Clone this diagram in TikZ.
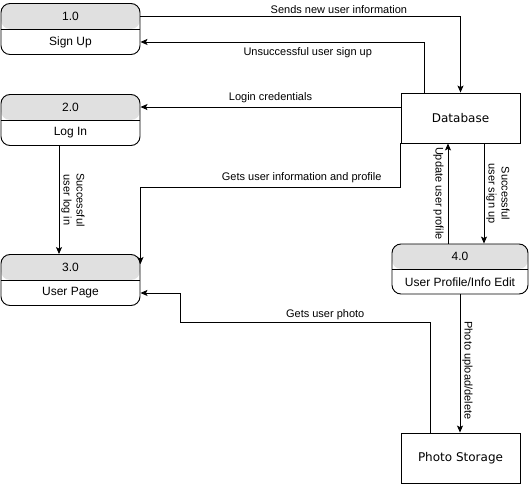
\documentclass[tikz,border=0pt]{standalone}
\usepackage{fontspec}
\setmainfont{Liberation Sans}
\newfontfamily\dejavu{DejaVu Sans}
\usetikzlibrary{calc,positioning,arrows.meta}
\definecolor{hdrgray}{HTML}{E0E0E0}
\tikzset{
  >={Stealth[length=7pt,width=6pt,inset=1.5pt]},
  proc/.style={
    rectangle,
    rounded corners=9pt,
    draw=black, line width=0.9pt,
    minimum width=139pt,
    minimum height=51pt,
    inner sep=0pt,
    path picture={
      \fill[hdrgray] (path picture bounding box.north west) rectangle (path picture bounding box.east);
      \draw[line width=0.9pt] (path picture bounding box.west) -- (path picture bounding box.east);
    }},
  ptext/.style={font=\fontsize{12}{14}\selectfont, inner sep=0pt},
  store/.style={
    rectangle,
    draw=black, line width=0.9pt,
    minimum width=119pt,
    minimum height=50pt,
    font=\dejavu\fontsize{12}{14}\selectfont},
  flow/.style={draw, line width=0.9pt, ->},
  lbl/.style={font=\fontsize{11}{13}\selectfont, inner sep=2pt},
  vlbl/.style={lbl, rotate=-90, align=center},
}

\begin{document}
\begin{tikzpicture}[x=1pt, y=-1pt]
  \useasboundingbox (0,0) rectangle (531,484);

  % processes
  \node[proc] (p1) at (70.5,29) {};
  \node[ptext] (p1h) at ($(p1.north)!.5!(p1.center)$) {1.0};
  \node[ptext] (p1b) at ($(p1.center)!.5!(p1.south)$) {Sign Up};

  \node[proc] (p2) at (70.5,120) {};
  \node[ptext] (p2h) at ($(p2.north)!.5!(p2.center)$) {2.0};
  \node[ptext] (p2b) at ($(p2.center)!.5!(p2.south)$) {Log In};

  \node[proc] (p3) at (70.5,280) {};
  \node[ptext] (p3h) at ($(p3.north)!.5!(p3.center)$) {3.0};
  \node[ptext] (p3b) at ($(p3.center)!.5!(p3.south)$) {User Page};

  \node[proc, minimum width=136pt, minimum height=50pt] (p4) at (460,269) {};
  \node[ptext] (p4h) at ($(p4.north)!.5!(p4.center)$) {4.0};
  \node[ptext] (p4b) at ($(p4.center)!.5!(p4.south)$) {User Profile/Info Edit};

  % data stores
  \node[store] (db) at (460.5,118) {Database};
  \node[store] (ps) at (460.5,458) {Photo Storage};

  % flows
  \draw[flow] (p1.east |- p1h) -| node[lbl, above, pos=0.31] {Sends new user information} (db.north);
  \draw[flow] ([xshift=-36.5pt]db.north) |- node[lbl, below=3pt, pos=0.705] {Unsuccessful user sign up} (p1.east |- p1b);
  \draw[flow] (db.west |- p2h) -- node[lbl, above=2pt] {Login credentials} (p2.east |- p2h);
  \draw[flow] ([xshift=-11.5pt]p2.south) -- node[vlbl, anchor=south] {Successful\\user log in} ([xshift=-11.5pt]p3.north);
  \draw[flow] (db.south west) -- ++(0,44) -| node[lbl, above=2pt, pos=0.19] {Gets user information and profile} ([yshift=-10pt]p3.north east);
  \draw[flow] ([xshift=-12pt]p4.north) -- node[vlbl, anchor=north, inner sep=4pt] {Update user profile} ([xshift=-12pt]p4.north |- db.south);
  \draw[flow] ([xshift=23.5pt]db.south) -- node[vlbl, anchor=south] {Successful\\user sign up} ([xshift=23.5pt]db.south |- p4.north);
  \draw[flow] (p4.south) -- node[vlbl, anchor=south, pos=0.55] {Photo upload/delete} (p4.south |- ps.north);
  \draw[flow] ([xshift=-30.5pt]ps.north) -- ++(0,-110) -- node[lbl, above, pos=0.42] {Gets user photo} ++(-249.5,0) |- (p3.east |- p3b);

\end{tikzpicture}
\end{document}
